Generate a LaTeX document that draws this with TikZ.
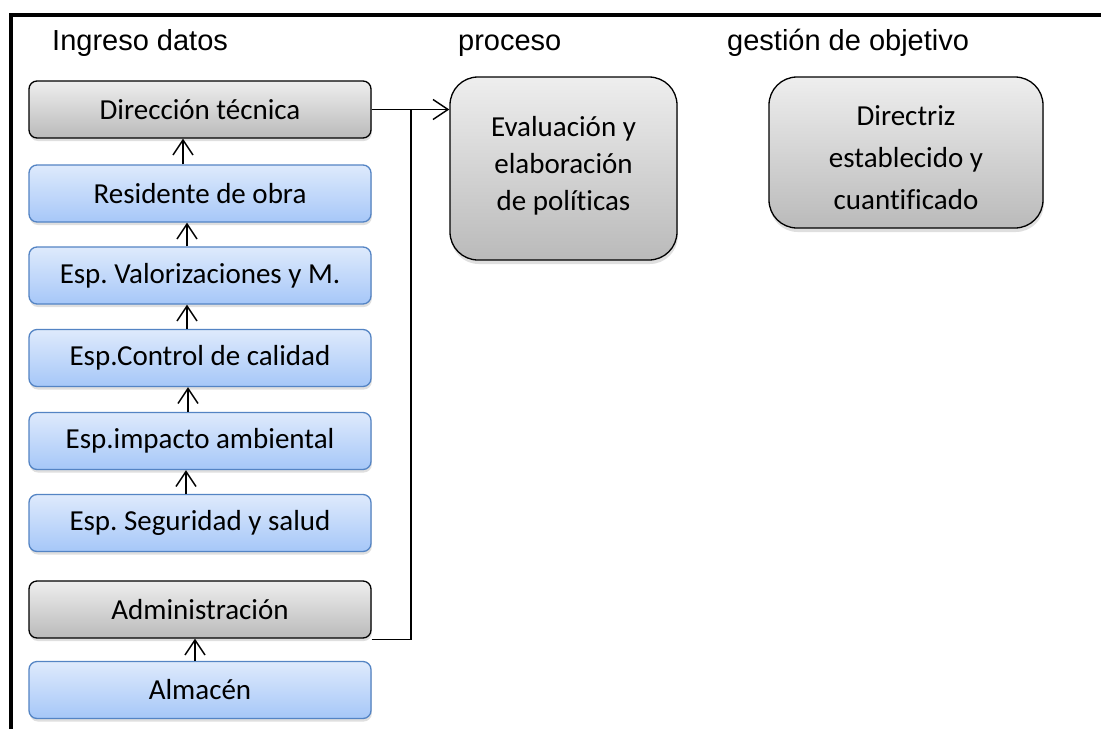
\documentclass[tikz,border=0pt]{standalone}
\usepackage{fontspec}
\setmainfont{Carlito}[Ligatures=NoCommon]
\newfontfamily\arialf{Liberation Sans}
\usetikzlibrary{arrows.meta,shadows}
\frenchspacing
\definecolor{gtop}{RGB}{238,238,238}
\definecolor{gbot}{RGB}{186,186,186}
\definecolor{btop}{RGB}{222,234,252}
\definecolor{bbot}{RGB}{166,199,248}
\definecolor{bborder}{RGB}{84,132,196}
\tikzset{
  boxbase/.style={rectangle, rounded corners=8pt, minimum width=342pt, minimum height=57pt,
    inner sep=0pt, line width=1.3pt, font=\frenchspacing\fontsize{29}{35}\selectfont,
    drop shadow={opacity=0.25, shadow xshift=0.8pt, shadow yshift=-3pt}},
  graybox/.style={boxbase, draw=black, top color=gtop, bottom color=gbot},
  bluebox/.style={boxbase, draw=bborder, top color=btop, bottom color=bbot},
  bigbox/.style={rectangle, rounded corners=28pt, draw=black, line width=1.3pt,
    top color=gtop, bottom color=gbot, inner sep=0pt,
    drop shadow={opacity=0.25, shadow xshift=0.8pt, shadow yshift=-4pt}},
  header/.style={anchor=base west, inner sep=0pt, font=\arialf\fontsize{29}{34}\selectfont},
  arr/.style={-{Straight Barb[length=15pt,width=20pt]}, line width=1.5pt},
  conn/.style={line width=1.5pt}
}
\begin{document}
\begin{tikzpicture}[x=1pt,y=-1pt]
\useasboundingbox (0,0) rectangle (1101,729);
\fill[white] (0,0) rectangle (1101,729);
% frame
\draw[line width=4pt] (10.5,729) -- (10.5,15) -- (1101,15);
% headers
\node[header] (h1) at (52,50) {Ingreso datos};
\node[header] (h2) at (458,50) {proceso};
\node[header] (h3) at (727,50) {gestión de objetivo};
% left column
\node[graybox] (dir) at (200,109.5) {Dirección técnica};
\node[bluebox] (res) at (200,193.5) {Residente de obra};
\node[bluebox] (val) at (200,275.5) {Esp. Valorizaciones y M.};
\node[bluebox] (ctl) at (200,358) {Esp.Control de calidad};
\node[bluebox] (imp) at (200,441) {Esp.impacto ambiental};
\node[bluebox] (seg) at (200,523) {Esp. Seguridad y salud};
\node[graybox] (adm) at (200,609.5) {Administración};
\node[bluebox] (alm) at (200,690) {Almacén};
% right boxes
\node[bigbox, minimum width=227pt, minimum height=183pt,
  font=\fontsize{29}{37}\selectfont] (eval) at (563.5,168.5)
  {\raisebox{-3.5pt}[0pt][0pt]{\begin{tabular}{@{}c@{}}Evaluación y\\elaboración\\de políticas\end{tabular}}};
\node[bigbox, minimum width=274pt, minimum height=151pt,
  font=\fontsize{29}{42}\selectfont] (dirz) at (906,152.5)
  {\raisebox{-13pt}[0pt][0pt]{\begin{tabular}{@{}c@{}}Directriz\\establecido y\\cuantificado\end{tabular}}};
% vertical arrows
\draw[arr] ([xshift=-17pt]res.north) -- ([xshift=-17pt]dir.south);
\draw[arr] ([xshift=-13pt]val.north) -- ([xshift=-13pt]res.south);
\draw[arr] ([xshift=-13pt]ctl.north) -- ([xshift=-13pt]val.south);
\draw[arr] ([xshift=-12pt]imp.north) -- ([xshift=-12pt]ctl.south);
\draw[arr] ([xshift=-14pt]seg.north) -- ([xshift=-14pt]imp.south);
\draw[arr] ([xshift=-5pt]alm.north) -- ([xshift=-5pt]adm.south);
% connectors to evaluation
\coordinate (jn) at (411,109.5);
\draw[arr] (dir.east) -- (dir.east -| eval.west);
\draw[conn] ([yshift=-1pt]adm.south east) -| (jn);
\end{tikzpicture}
\end{document}
